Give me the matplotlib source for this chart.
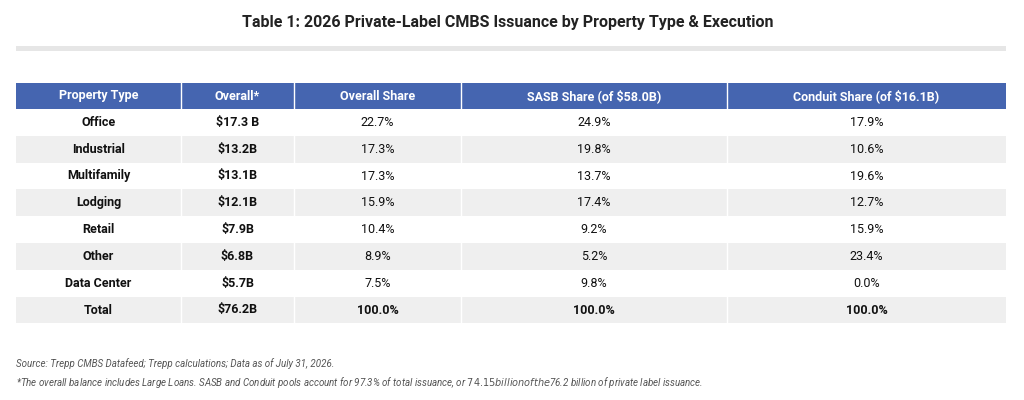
import matplotlib.pyplot as plt
from matplotlib.patches import Rectangle

plt.rcParams["font.family"] = ["Roboto", "DejaVu Sans"]

title = "Table 1: 2026 Private-Label CMBS Issuance by Property Type & Execution"
columns = ["Property Type", "Overall*", "Overall Share", "SASB Share (of $58.0B)", "Conduit Share (of $16.1B)"]
property_types = ["Office", "Industrial", "Multifamily", "Lodging", "Retail", "Other", "Data Center", "Total"]
overall = ["$17.3 B", "$13.2B", "$13.1B", "$12.1B", "$7.9B", "$6.8B", "$5.7B", "$76.2B"]
overall_share = ["22.7%", "17.3%", "17.3%", "15.9%", "10.4%", "8.9%", "7.5%", "100.0%"]
sasb_share = ["24.9%", "19.8%", "13.7%", "17.4%", "9.2%", "5.2%", "9.8%", "100.0%"]
conduit_share = ["17.9%", "10.6%", "19.6%", "12.7%", "15.9%", "23.4%", "0.0%", "100.0%"]
source_note = "Source: Trepp CMBS Datafeed; Trepp calculations; Data as of July 31, 2026."
foot_note = ("*The overall balance includes Large Loans. SASB and Conduit pools account for 97.3% of total "
             "issuance, or $74.15 billion of the $76.2 billion of private label issuance.")

W, H = 1024, 400
fig = plt.figure(figsize=(W / 100, H / 100), dpi=100)
ax = fig.add_axes([0, 0, 1, 1])
ax.set_xlim(0, W)
ax.set_ylim(H, 0)
ax.axis("off")

ax.text(W / 2 - 4, 23, title, ha="center", va="center", fontsize=11.5, fontweight="bold", color="#222222")
ax.add_patch(Rectangle((16, 46), 990, 5, color="#e6e6e6", lw=0))

edges = [16, 181, 294, 461, 727, 1006]
header_top, header_h, row_h = 83, 26, 26.8
header_color = "#4565b0"
gray = "#efefef"

for i, col in enumerate(columns):
    x0, x1 = edges[i], edges[i + 1]
    ax.add_patch(Rectangle((x0, header_top), x1 - x0, header_h, color=header_color, lw=0))
    ax.text((x0 + x1) / 2, header_top + header_h / 2, col, ha="center", va="center",
            fontsize=9, fontweight="bold", color="white")

rows = list(zip(property_types, overall, overall_share, sasb_share, conduit_share))
for r, row in enumerate(rows):
    y0 = header_top + header_h + r * row_h
    fill = gray if r % 2 == 1 else "white"
    for i, val in enumerate(row):
        x0, x1 = edges[i], edges[i + 1]
        ax.add_patch(Rectangle((x0, y0), x1 - x0, row_h, color=fill, lw=0))
        weight = "bold" if i < 2 or r == len(rows) - 1 else "normal"
        ax.text((x0 + x1) / 2, y0 + row_h / 2, val, ha="center", va="center",
                fontsize=9, fontweight=weight, color="#111111")

for x in edges[1:-1]:
    ax.plot([x, x], [header_top, header_top + header_h + len(rows) * row_h], color="white", lw=1)

ax.text(16, 364, source_note, ha="left", va="center", fontsize=7, style="italic", color="#555555")
ax.text(16, 383, foot_note, ha="left", va="center", fontsize=7, style="italic", color="#555555")

fig.savefig("out.png", dpi=100)
